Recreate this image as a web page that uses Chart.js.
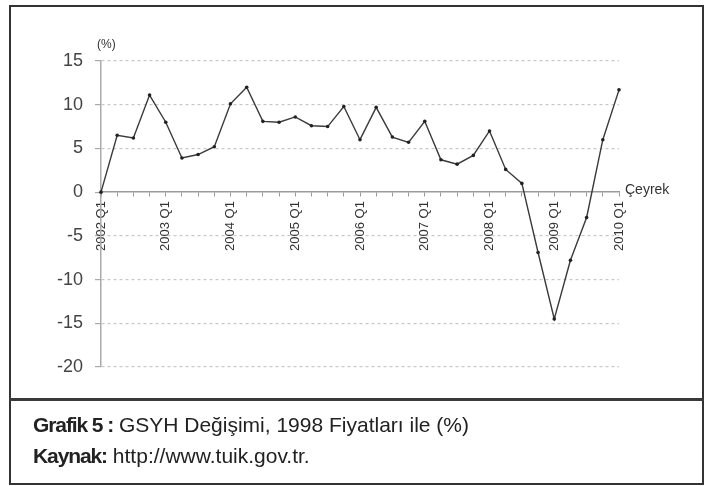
<!DOCTYPE html>
<html>
<head>
<meta charset="utf-8">
<script src="https://cdn.jsdelivr.net/npm/chart.js@4.4.0/dist/chart.umd.min.js"></script>
<style>
  body { margin: 0; background: #fff; }
  #wrap { position: relative; width: 705px; height: 486px; overflow: hidden; }
  #chart { position: absolute; left: 0; top: 0; }
  .frame { position: absolute; left: 9px; top: 5px; width: 691px; height: 476px; border: 2.5px solid #333; }
  .sep { position: absolute; left: 9px; top: 398px; width: 695px; height: 3px; background: #3a3a3a; }
  .cap { position: absolute; left: 33px; font-family: "Liberation Sans", Arial, sans-serif; font-size: 21px; color: #222; white-space: nowrap; }
  .cap b { font-size: 21px; letter-spacing: -1.1px; }
</style>
</head>
<body>
<div id="wrap">
  <canvas id="chart" width="705" height="486"></canvas>
  <div class="frame"></div>
  <div class="sep"></div>
  <div class="cap" style="top:413px"><b>Grafik 5 :</b> GSYH Değişimi, 1998 Fiyatları ile (%)</div>
  <div class="cap" style="top:444px"><b>Kaynak:</b> http://www.tuik.gov.tr.</div>
</div>
<script>
// çeyrekler
const quarters = [
  "2002 Q1", "2002 Q2", "2002 Q3", "2002 Q4",
  "2003 Q1", "2003 Q2", "2003 Q3", "2003 Q4",
  "2004 Q1", "2004 Q2", "2004 Q3", "2004 Q4",
  "2005 Q1", "2005 Q2", "2005 Q3", "2005 Q4",
  "2006 Q1", "2006 Q2", "2006 Q3", "2006 Q4",
  "2007 Q1", "2007 Q2", "2007 Q3", "2007 Q4",
  "2008 Q1", "2008 Q2", "2008 Q3", "2008 Q4",
  "2009 Q1", "2009 Q2", "2009 Q3", "2009 Q4",
  "2010 Q1",
];

// GSYH değişimi (%)
const gdpChange = [
  0.0, 6.5, 6.2, 11.1,
  8.0, 3.9, 4.3, 5.2,
  10.1, 12.0, 8.1, 8.0,
  8.6, 7.6, 7.5, 9.8,
  6.0, 9.7, 6.3, 5.7,
  8.1, 3.7, 3.2, 4.2,
  7.0, 2.6, 1.0, -6.9,
  -14.5, -7.8, -2.9, 6.0,
  11.7,
];

// sadece yılın ilk çeyreği yazılıyor
const xTickLabels = ["2002 Q1", "2003 Q1", "2004 Q1", "2005 Q1", "2006 Q1", "2007 Q1", "2008 Q1", "2009 Q1", "2010 Q1"];
const yTicks = [-20, -15, -10, -5, 0, 5, 10, 15];

// (%) ve Çeyrek yazıları
const axisTitles = {
  id: "axisTitles",
  afterDraw(chart) {
    const { ctx, scales } = chart;
    const x = scales.x, y = scales.y;
    ctx.save();
    ctx.fillStyle = "#333";
    ctx.font = "12px 'Liberation Sans', Arial, sans-serif";
    ctx.textBaseline = "bottom";
    ctx.textAlign = "left";
    ctx.fillText("(%)", x.left - 4, y.top - 10);
    ctx.textBaseline = "middle";
    ctx.font = "14px 'Liberation Sans', Arial, sans-serif";
    ctx.fillText("Çeyrek", x.right + 6, y.getPixelForValue(0) - 2);
    ctx.restore();
  },
};

const ctx = document.getElementById("chart").getContext("2d");
const chart = new Chart(ctx, {
  type: "line",
  data: {
    labels: quarters,
    datasets: [
      {
        data: gdpChange,
        borderColor: "#3a3a3a",
        borderWidth: 1.4,
        pointRadius: 1.8,
        pointBackgroundColor: "#222",
        pointBorderWidth: 0,
        tension: 0,
      },
    ],
  },
  options: {
    responsive: false,
    animation: false,
    devicePixelRatio: 1,
    layout: { padding: { left: 0, top: 61, right: 86, bottom: 119 } },
    plugins: { legend: { display: false }, tooltip: { enabled: false } },
    scales: {
      x: {
        type: "category",
        position: { y: 0 },
        offset: false,
        grid: { drawOnChartArea: false, drawTicks: true, tickLength: 4, color: "#999", lineWidth: 1 },
        border: { display: true, color: "#999", width: 1.5 },
        ticks: {
          autoSkip: false,
          minRotation: 90,
          maxRotation: 90,
          padding: 5,
          color: "#333",
          font: { family: "'Liberation Sans', Arial, sans-serif", size: 13 },
          callback: function (value, index) {
            const label = quarters[index];
            return xTickLabels.includes(label) ? label : "";
          },
        },
      },
      y: {
        min: yTicks[0],
        max: yTicks[yTicks.length - 1],
        afterBuildTicks: (scale) => {
          scale.ticks = yTicks.map((v) => ({ value: v }));
        },
        afterFit: (scale) => {
          scale.width = 101;
        },
        grid: {
          color: (c) => (c.tick && c.tick.value === 0 ? "rgba(0,0,0,0)" : "#c8c8c8"),
          tickColor: "#aaa",
          tickLength: 6,
          lineWidth: 1.2,
        },
        border: { display: true, color: "#aaa", width: 1.5, dash: [3, 3] },
        ticks: {
          padding: 12,
          color: "#444",
          font: { family: "'Liberation Sans', Arial, sans-serif", size: 18 },
        },
      },
    },
  },
  plugins: [axisTitles],
});
</script>
</body>
</html>
